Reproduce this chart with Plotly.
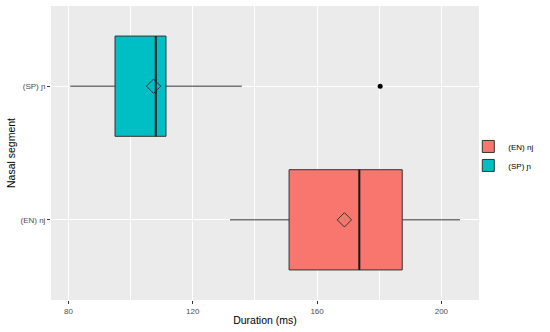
import plotly.graph_objects as go

categories = ["(EN) nj", "(SP) ɲ"]
colors = ["#F8766D", "#00BFC4"]
lower_whisker = [132.0, 80.6]
q1 = [151.0, 95.0]
median = [173.6, 108.1]
q3 = [187.4, 111.4]
upper_whisker = [206.0, 135.8]
means = [168.8, 107.4]
outlier_cat = ["(SP) ɲ"]
outlier_val = [180.3]
x_ticks = [80, 120, 160, 200]

BOX_W = 0.75
fig = go.Figure()
for i, cat in enumerate(categories):
    fig.add_trace(go.Box(
        y=[cat], orientation="h", name=cat,
        q1=[q1[i]], median=[median[i]], q3=[q3[i]],
        lowerfence=[lower_whisker[i]], upperfence=[upper_whisker[i]],
        fillcolor=colors[i], line=dict(color="#333333", width=1),
        width=BOX_W, whiskerwidth=0, boxpoints=False, legendgroup=cat,
        showlegend=True,
    ))
    fig.add_shape(type="line", xref="x", yref="y",
                  x0=median[i], x1=median[i], y0=i - BOX_W / 2, y1=i + BOX_W / 2,
                  line=dict(color="#1a1a1a", width=2))
    fig.add_trace(go.Scatter(
        x=[means[i]], y=[cat], mode="markers", showlegend=False, legendgroup=cat,
        marker=dict(symbol="diamond", size=11, color=colors[i],
                    line=dict(color="#333333", width=1)),
    ))

fig.add_trace(go.Scatter(
    x=outlier_val, y=outlier_cat, mode="markers", showlegend=False,
    marker=dict(size=5, color="black"),
))

fig.update_layout(
    width=550, height=332,
    margin=dict(l=51, r=71, t=6, b=32, autoexpand=False),
    paper_bgcolor="white", plot_bgcolor="#EBEBEB",
    font=dict(family="Liberation Sans, Arial, sans-serif", color="#4D4D4D", size=8),
    legend=dict(x=0.975, y=0.49, yanchor="middle", xanchor="left",
                font=dict(size=8, color="#000000"), tracegroupgap=0,
                itemwidth=30, bgcolor="rgba(0,0,0,0)"),
)
fig.update_xaxes(
    range=[74.4, 212.1], tickvals=x_ticks, showgrid=True, gridcolor="white", gridwidth=1,
    zeroline=False, ticks="outside", ticklen=3, tickcolor="#333333", automargin=False,
    tickfont=dict(size=8, color="#4D4D4D"),
    title=dict(text="Duration (ms)", font=dict(size=10.5, color="#000000"), standoff=2),
    minor=dict(dtick=20, tick0=0, showgrid=True, gridcolor="white", gridwidth=0.5, ticks=""),
)
fig.update_yaxes(
    categoryorder="array", categoryarray=categories, range=[-0.6, 1.6],
    showgrid=True, gridcolor="white", gridwidth=1, zeroline=False, automargin=False,
    ticks="outside", ticklen=3, tickcolor="#333333",
    tickfont=dict(size=8, color="#4D4D4D"),
    title=dict(text="Nasal segment", font=dict(size=10.5, color="#000000"), standoff=2),
)

fig.write_html("out.html", config={"displayModeBar": False},
               post_script="document.body.style.margin='0';")
